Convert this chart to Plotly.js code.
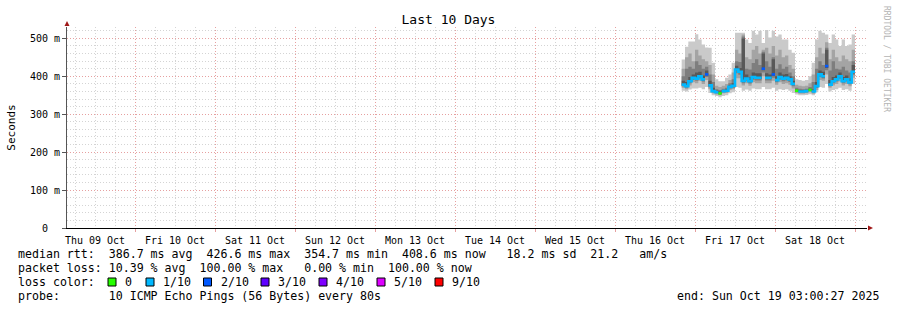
<!DOCTYPE html>
<html>
<head>
<meta charset="utf-8">
<script src="https://cdn.plot.ly/plotly-3.0.1.min.js"></script>
<style>html,body{margin:0;padding:0;background:#fff;}#chart{width:897px;height:310px;}</style>
</head>
<body>
<div id="chart"></div>
<script>
// ---- data (ms), hourly samples starting Thu 16 Oct 20:00 ----
const startTime = '2025-10-16T20:00:00Z';
const stepHours = 1;
const median = [378,374,387,396,394,400,392,405,376,361,358,355,361,362,372,375,418,412,388,394,387,398,396,396,420,396,396,405,390,398,394,396,392,380,362,360,360,361,364,360,374,405,400,427,378,387,392,400,387,392,384,412];
const lossLevel = [1,1,1,1,1,1,1,2,1,1,1,0,1,1,1,1,1,1,1,1,1,1,1,1,2,1,1,2,1,1,1,1,1,1,0,1,1,1,0,1,1,1,1,2,1,1,1,1,1,1,1,1];
const ping1  = [362,360,365,368,368,370,366,372,356,350,348,345,348,350,355,358,372,370,362,365,362,368,366,366,372,366,366,370,362,366,364,366,362,356,352,350,350,351,353,350,358,372,370,380,360,364,366,370,364,366,362,380];
const ping2  = [370,366,376,384,382,388,380,390,366,355,352,350,355,356,364,366,395,395,376,382,375,384,382,382,400,382,382,388,378,384,380,382,378,368,356,354,354,355,358,354,364,390,388,405,370,376,380,386,376,380,374,396];
const ping3  = [374,370,382,390,388,394,386,398,371,358,355,352,358,359,368,370,408,404,382,388,381,391,389,389,410,389,389,396,384,391,387,389,385,374,359,357,357,358,361,357,369,398,394,416,374,382,386,393,382,386,379,404];
const ping4  = [376,372,385,393,391,397,389,402,374,360,357,354,360,361,370,373,414,409,385,391,384,395,393,393,416,393,393,401,387,395,391,393,389,377,361,359,359,360,363,359,372,402,397,422,376,385,389,397,385,389,382,408];
const ping7  = [388,385,398,405,410,412,402,415,388,370,362,360,364,366,376,382,428,422,500,405,398,410,408,408,460,408,405,445,400,410,405,406,400,388,365,363,363,364,367,365,385,415,412,470,390,398,402,410,398,402,395,430];
const ping8  = [400,420,425,420,440,430,420,425,405,385,366,364,367,370,382,392,440,438,505,420,418,435,445,430,465,440,425,450,420,432,420,425,410,400,370,367,366,367,372,385,420,440,430,475,415,440,420,418,425,415,410,440];
const ping9  = [420,450,460,440,470,455,445,440,430,405,375,372,375,380,390,410,470,460,510,450,445,470,480,460,470,475,460,480,455,470,450,455,430,420,378,375,374,375,382,405,450,475,460,490,445,470,450,440,455,445,440,470];
const ping10 = [444,478,492,492,511,497,484,476,475,436,392,387,387,396,405,436,515,515,515,497,488,520,510,520,488,522,502,520,505,510,497,497,470,462,392,390,388,390,400,436,497,520,515,510,488,510,497,480,497,480,484,510];

const yTickVals = [0,100,200,300,400,500];
const yTickText = ['0\u00a0\u00a0','100 m','200 m','300 m','400 m','500 m'];
const dayTicks = ['2025-10-10','2025-10-11','2025-10-12','2025-10-13','2025-10-14','2025-10-15','2025-10-16','2025-10-17','2025-10-18','2025-10-19'];
const dayLabels = ['Thu 09 Oct','Fri 10 Oct','Sat 11 Oct','Sun 12 Oct','Mon 13 Oct','Tue 14 Oct','Wed 15 Oct','Thu 16 Oct','Fri 17 Oct','Sat 18 Oct'];
const lossLabels = ['0','1/10','2/10','3/10','4/10','5/10','9/10'];
const lossColors = ['#26ff00','#00b8ff','#0059ff','#5e00ff','#7e00ff','#dd00ff','#ff0000'];
const smokeColors = ['#cacaca','#a4a4a4','#7e7e7e','#585858'];

const statsLine1 = 'median rtt:  386.7 ms avg  426.6 ms max  354.7 ms min  408.6 ms now   18.2 ms sd  21.2   am/s';
const statsLine2 = 'packet loss: 10.39 % avg  100.00 % max   0.00 % min  100.00 % now';
const probeLine = 'probe:       10 ICMP Echo Pings (56 Bytes) every 80s';
const endLine = 'end: Sun Oct 19 03:00:27 2025';

// ---- build ----
const t0 = Date.parse(startTime);
function fmt(ms){ return new Date(ms).toISOString().replace('T',' ').slice(0,19); }
const times = [];
for (let i = 0; i <= median.length; i++) times.push(fmt(t0 + i*stepHours*3600000));
function ext(a){ return a.concat([a[a.length-1]]); }

const traces = [];
const bands = [[ping1,ping10],[ping2,ping9],[ping3,ping8],[ping4,ping7]];
bands.forEach((b, k) => {
  traces.push({x: times, y: ext(b[0]), mode:'lines', line:{width:0, shape:'hv'}, hoverinfo:'skip', showlegend:false});
  traces.push({x: times, y: ext(b[1]), mode:'lines', line:{width:0, shape:'hv'}, fill:'tonexty', fillcolor: smokeColors[k], hoverinfo:'skip', showlegend:false});
});
[0,1,2].forEach(L => {
  const xs = [], ys = [];
  for (let i = 0; i < median.length; i++) {
    if (lossLevel[i] === L) {
      xs.push(times[i]); ys.push(median[i]);
      if (i === median.length-1 || lossLevel[i+1] !== L) { xs.push(times[i+1]); ys.push(median[i]); xs.push(null); ys.push(null); }
    }
  }
  traces.push({x: xs, y: ys, mode:'lines', line:{color: lossColors[L], width:2.6, shape:'hv'}, connectgaps:false, hoverinfo:'skip', showlegend:false});
});

const L0 = 67, PW = 800, T0 = 27, PH = 201, BASE = 228;
const px = p => (p - L0)/PW;
const py = p => (BASE - p)/PH;
const mono = 'DejaVu Sans Mono';
const nb = s => s.replace(/ /g,'\u00a0');
const annotations = [
  {text: nb(statsLine1), x: px(16), y: py(254)},
  {text: nb(statsLine2), x: px(16), y: py(268)},
  {text: nb('loss color:'), x: px(16), y: py(282)},
  {text: nb(probeLine), x: px(16), y: py(296)},
].map(a => Object.assign(a, {xref:'paper', yref:'paper', xanchor:'left', yanchor:'middle', showarrow:false, font:{family:mono, size:11.6, color:'#000'}}));
annotations.push({text: nb(endLine), x: px(881), y: py(296), xref:'paper', yref:'paper', xanchor:'right', yanchor:'middle', showarrow:false, font:{family:mono, size:11.6, color:'#000'}});
annotations.push({text: 'RRDTOOL / TOBI OETIKER', x: px(887), y: py(59), xref:'paper', yref:'paper', xanchor:'center', yanchor:'middle', textangle:90, showarrow:false, font:{family:mono, size:8, color:'#b4b4b4'}});

const boxX = [108, 146, 203.5, 261, 319, 377, 435];
const shapes = [];
lossLabels.forEach((lab, i) => {
  shapes.push({type:'rect', xref:'paper', yref:'paper', x0: px(boxX[i]), x1: px(boxX[i]+8), y0: py(286), y1: py(278), fillcolor: lossColors[i], line:{color:'#000', width:1}});
  annotations.push({text: nb(lab), x: px(boxX[i]+15), y: py(282), xref:'paper', yref:'paper', xanchor:'left', yanchor:'middle', showarrow:false, font:{family:mono, size:11.6, color:'#000'}});
});
// axis arrows
shapes.push({type:'path', xref:'paper', yref:'paper', xsizemode:'pixel', ysizemode:'pixel', xanchor:0, yanchor:1, path:'M -2.5 1 L 2.5 1 L 0 6 Z', fillcolor:'#a01818', line:{width:0}});
shapes.push({type:'path', xref:'paper', yref:'paper', xsizemode:'pixel', ysizemode:'pixel', xanchor:1, yanchor:0, path:'M 1 -2.5 L 1 2.5 L 6 0 Z', fillcolor:'#a01818', line:{width:0}});

const layout = {
  width: 897, height: 310,
  margin: {l: L0, r: 897 - L0 - PW, t: T0, b: 310 - BASE, pad: 0},
  paper_bgcolor: '#fff', plot_bgcolor: '#fff',
  showlegend: false,
  font: {family: mono, size: 10, color: '#000'},
  title: {text: 'Last 10 Days', font: {family: mono, size: 13, color: '#000'}, x: 0.5, xanchor: 'center', y: 1 - 19/310, yanchor: 'middle'},
  xaxis: {
    type: 'date', range: ['2025-10-09 03:36', '2025-10-19 03:36'],
    tickmode: 'array', tickvals: dayTicks, ticktext: dayLabels, ticklabelshift: -40,
    tickfont: {family: mono, size: 10, color: '#000'},
    showgrid: true, gridcolor: '#e6a0a0', griddash: '1px,2px', gridwidth: 1,
    ticks: 'outside', ticklen: 3, tickcolor: '#e6a0a0',
    showline: true, linecolor: '#000', linewidth: 1, zeroline: false,
    minor: {dtick: 6*3600000, tick0: '2025-10-09', showgrid: true, gridcolor: '#d4d4d4', griddash: '1px,2px', gridwidth: 1},
    fixedrange: true
  },
  yaxis: {
    range: [0, 530], tickmode: 'array', tickvals: yTickVals, ticktext: yTickText,
    tickfont: {family: mono, size: 10, color: '#000'},
    showgrid: true, gridcolor: '#e6a0a0', griddash: '1px,2px', gridwidth: 1,
    ticks: 'outside', ticklen: 4, tickcolor: '#555',
    showline: true, linecolor: '#555', linewidth: 1, zeroline: false,
    minor: {dtick: 20, tick0: 0, showgrid: true, gridcolor: '#d4d4d4', griddash: '1px,2px', gridwidth: 1},
    title: {text: 'Seconds', font: {family: mono, size: 11, color: '#000'}, standoff: 12},
    fixedrange: true
  },
  annotations: annotations,
  shapes: shapes
};
Plotly.newPlot('chart', traces, layout, {displayModeBar: false, staticPlot: true});
</script>
</body>
</html>
